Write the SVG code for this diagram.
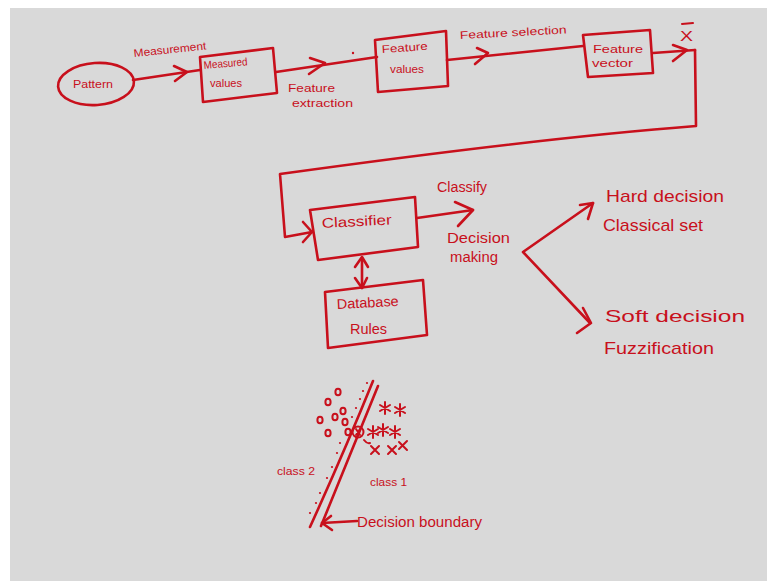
<svg xmlns="http://www.w3.org/2000/svg" width="767" height="581" viewBox="0 0 767 581">
  <style>
    .ink { fill: none; stroke: #c8101c; stroke-width: 2.6; stroke-linecap: round; stroke-linejoin: round; }
    .thin { fill: none; stroke: #c8101c; stroke-width: 2; stroke-linecap: round; stroke-linejoin: round; }
    .dot { fill: #c8101c; }
    text { fill: #c8101c; font-family: "Liberation Sans", "DejaVu Sans", sans-serif; }
    .s { font-size: 11px; }
    .m { font-size: 14px; }
    .l { font-size: 17px; }
  </style>

  <!-- board -->
  <rect x="0" y="0" width="767" height="581" fill="#ffffff"/>
  <rect x="10" y="8" width="757" height="573" fill="#d9d9d9"/>

  <!-- pipeline nodes -->
  <g id="pattern">
    <ellipse class="ink" cx="96" cy="84" rx="38" ry="21" transform="rotate(-4 96 84)"/>
    <text class="s" x="73" y="88" textLength="40" lengthAdjust="spacingAndGlyphs">Pattern</text>
  </g>

  <g id="measured-values">
    <path class="ink" d="M200,57 L273,48 L277,93 L203,102 Z"/>
    <text class="s" x="204" y="69" textLength="44" lengthAdjust="spacingAndGlyphs" transform="rotate(-5 204 69)">Measured</text>
    <text class="s" x="210" y="87" textLength="32" lengthAdjust="spacingAndGlyphs">values</text>
  </g>

  <g id="feature-values">
    <path class="ink" d="M375,40 L446,31 L448,86 L378,92 Z"/>
    <text class="s" x="382" y="53" textLength="46" lengthAdjust="spacingAndGlyphs" transform="rotate(-4 382 53)">Feature</text>
    <text class="s" x="390" y="73" textLength="34" lengthAdjust="spacingAndGlyphs">values</text>
  </g>

  <g id="feature-vector">
    <path class="ink" d="M583,35 L650,30 L653,73 L588,77 Z"/>
    <text class="s" x="593" y="53" textLength="50" lengthAdjust="spacingAndGlyphs">Feature</text>
    <text class="s" x="592" y="67" textLength="41" lengthAdjust="spacingAndGlyphs">vector</text>
  </g>

  <g id="x-bar">
    <text class="m" x="680" y="41" textLength="13" lengthAdjust="spacingAndGlyphs">X</text>
    <path class="thin" d="M682,24 L693,23"/>
  </g>

  <g id="classifier">
    <path class="ink" d="M310,210 L415,197 L418,247 L318,260 Z"/>
    <text class="m" x="322" y="228" textLength="70" lengthAdjust="spacingAndGlyphs" transform="rotate(-3 322 228)">Classifier</text>
  </g>

  <g id="database-rules">
    <path class="ink" d="M325,292 L423,280 L427,335 L328,348 Z"/>
    <text class="m" x="337" y="309" textLength="62" lengthAdjust="spacingAndGlyphs" transform="rotate(-3 337 309)">Database</text>
    <text class="m" x="350" y="334" textLength="37" lengthAdjust="spacingAndGlyphs">Rules</text>
  </g>

  <g id="decision-making">
    <text class="m" x="437" y="192" textLength="50" lengthAdjust="spacingAndGlyphs">Classify</text>
    <text class="m" x="447" y="243" textLength="63" lengthAdjust="spacingAndGlyphs">Decision</text>
    <text class="m" x="450" y="262" textLength="48" lengthAdjust="spacingAndGlyphs">making</text>
  </g>

  <g id="hard-decision">
    <text class="l" x="606" y="202" textLength="118" lengthAdjust="spacingAndGlyphs">Hard decision</text>
    <text class="l" x="603" y="231" textLength="100" lengthAdjust="spacingAndGlyphs">Classical set</text>
  </g>

  <g id="soft-decision">
    <text class="l" x="605" y="322" textLength="140" lengthAdjust="spacingAndGlyphs">Soft decision</text>
    <text class="l" x="604" y="354" textLength="110" lengthAdjust="spacingAndGlyphs">Fuzzification</text>
  </g>

  <!-- connectors and their labels -->
  <g id="connectors">
    <path class="ink" d="M133,80 L200,70"/>
    <path class="ink" d="M174,66 L187,72 L175,81"/>
    <text class="s" x="134" y="57" textLength="73" lengthAdjust="spacingAndGlyphs" transform="rotate(-6 134 57)">Measurement</text>

    <path class="ink" d="M276,72 L377,57"/>
    <path class="ink" d="M310,58 L325,63 L309,74"/>
    <circle class="dot" cx="353" cy="53" r="1.2"/>
    <text class="s" x="288" y="92" textLength="47" lengthAdjust="spacingAndGlyphs">Feature</text>
    <text class="s" x="292" y="107" textLength="61" lengthAdjust="spacingAndGlyphs">extraction</text>

    <path class="ink" d="M447,60 L583,46"/>
    <path class="ink" d="M477,48 L488,53 L475,64"/>
    <text class="s" x="460" y="39" textLength="107" lengthAdjust="spacingAndGlyphs" transform="rotate(-3 460 39)">Feature selection</text>

    <path class="ink" d="M653,53 L695,50"/>
    <path class="ink" d="M673,45 L687,50 L673,61"/>

    <path class="ink" d="M695,50 L696,126 Q540,138 280,174 L285,237 L312,232"/>
    <path class="ink" d="M303,222 L312,232 L303,242"/>

    <path class="ink" d="M417,218 L473,210"/>
    <path class="ink" d="M455,202 L473,210 L458,226"/>

    <path class="ink" d="M362,258 L362,288"/>
    <path class="ink" d="M355,267 L362,257 L368,267"/>
    <path class="ink" d="M355,278 L362,288 L367,278"/>

    <path class="ink" d="M593,203 L523,252 L590,323"/>
    <path class="ink" d="M580,205 L593,203 L588,219"/>
    <path class="ink" d="M583,308 L591,323 L577,333"/>
  </g>

  <!-- scatter of two classes split by a boundary -->
  <g id="scatter">
    <path class="ink" d="M373,381 Q345,450 310,527"/>
    <path class="ink" d="M378,386 Q350,455 321,526"/>
    <g class="dot">
      <circle cx="367" cy="383" r="1.1"/><circle cx="363" cy="391" r="1.1"/><circle cx="360" cy="399" r="1.1"/>
      <circle cx="356" cy="408" r="1.1"/><circle cx="352" cy="417" r="1.1"/><circle cx="340" cy="443" r="1.1"/>
      <circle cx="337" cy="453" r="1.1"/><circle cx="332" cy="467" r="1.1"/><circle cx="327" cy="478" r="1.1"/>
      <circle cx="320" cy="493" r="1.1"/><circle cx="316" cy="503" r="1.1"/><circle cx="310" cy="513" r="1.1"/>
    </g>
    <g class="thin">
      <ellipse cx="338" cy="392" rx="2.6" ry="3.3"/>
      <ellipse cx="328" cy="402" rx="2.6" ry="3.3"/>
      <ellipse cx="320" cy="420" rx="2.6" ry="3.3"/>
      <ellipse cx="335" cy="417" rx="2.6" ry="3.3"/>
      <ellipse cx="343" cy="411" rx="2.6" ry="3.3"/>
      <ellipse cx="345" cy="422" rx="2.6" ry="3.3"/>
      <ellipse cx="328" cy="433" rx="2.6" ry="3.3"/>
      <ellipse cx="348" cy="432" rx="2.6" ry="3.3"/>
      <circle cx="358" cy="432" r="5.5"/>
      <path d="M356,429 L360,435 M360,429 L356,435"/>
    </g>
    <g class="thin">
      <path d="M385,402 L385,414 M380,405 L390,411 M390,405 L380,411"/>
      <path d="M400,404 L400,416 M395,407 L405,413 M405,407 L395,413"/>
      <path d="M373,426 L373,438 M368,429 L378,435 M378,429 L368,435"/>
      <path d="M383,424 L383,436 M378,427 L388,433 M388,427 L378,433"/>
      <path d="M395,426 L395,438 M390,429 L400,435 M400,429 L390,435"/>
      <path d="M371,446 L379,454 M379,446 L371,454"/>
      <path d="M388,446 L396,454 M396,446 L388,454"/>
      <path d="M399,442 L407,450 M407,441 L399,449"/>
      <path d="M364,440 Q367,444 370,443"/>
    </g>
    <text class="s" x="277" y="475" textLength="38" lengthAdjust="spacingAndGlyphs">class 2</text>
    <text class="s" x="370" y="486" textLength="37" lengthAdjust="spacingAndGlyphs">class 1</text>
    <path class="ink" d="M357,521 L322,523"/>
    <path class="ink" d="M331,516 L322,523 L332,530"/>
    <text class="m" x="357" y="527" textLength="125" lengthAdjust="spacingAndGlyphs">Decision boundary</text>
  </g>
</svg>
